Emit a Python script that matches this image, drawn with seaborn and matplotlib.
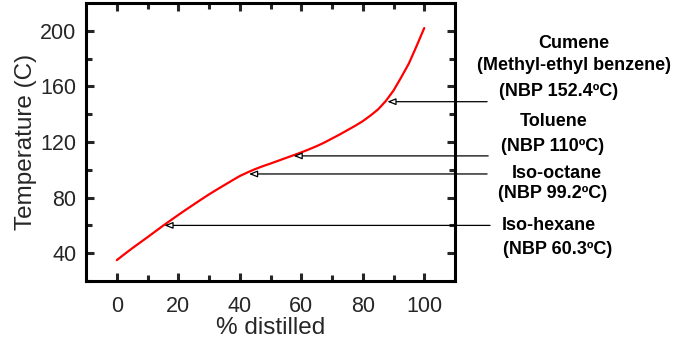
import matplotlib
matplotlib.use("Agg")
import matplotlib.pyplot as plt
import matplotlib.transforms as mtransforms
import numpy as np
import pandas as pd
import seaborn as sns

# ---- data ----
pct_distilled = [0, 2.5, 5, 7.5, 10, 12.5, 15, 17.5, 20, 22.5, 25, 27.5, 30, 32.5, 35, 37.5,
                 40, 42.5, 45, 47.5, 50, 52.5, 55, 57.5, 60, 62.5, 65, 67.5, 70, 72.5, 75,
                 77.5, 80, 82.5, 85, 87.5, 90, 92.5, 95, 97.5, 100]
temperature_c = [35, 39.3, 43.5, 47.5, 51.5, 55.6, 59.7, 63.6, 67.5, 71.3, 75, 78.7, 82.3, 85.7,
                 89, 92.3, 95.5, 98.1, 100.5, 102.6, 104.5, 106.5, 108.5, 110.5, 112.5, 114.7,
                 117, 119.6, 122.5, 125.4, 128.5, 131.6, 135, 139, 143.5, 149.5, 157, 166.5,
                 176.5, 189, 202]

compounds = ["Iso-hexane", "Iso-octane", "Toluene", "Cumene"]
compound_sub = ["", "", "", "(Methyl-ethyl benzene)"]
nbp_labels = ["(NBP 60.3\u00baC)", "(NBP 99.2\u00baC)", "(NBP 110\u00baC)", "(NBP 152.4\u00baC)"]
arrow_x = [15.5, 43, 57.5, 88]
arrow_y = [60, 97, 110, 149]

xticks = [0, 20, 40, 60, 80, 100]
yticks = [40, 80, 120, 160, 200]

df = pd.DataFrame({"pct": pct_distilled, "temp": temperature_c})

sns.set_style("ticks")
plt.rcParams["font.family"] = ["Liberation Sans", "DejaVu Sans"]

W, H = 677, 339
fig = plt.figure(figsize=(W / 100, H / 100), dpi=100)
ax = fig.add_axes([86 / W, 1 - 281 / H, (455 - 86) / W, (281 - 3) / H])

sns.lineplot(data=df, x="pct", y="temp", ax=ax, color="#ff0000", linewidth=1.6)

ax.set_xlim(-10, 110)
ax.set_ylim(20, 220)
ax.set_xticks(xticks)
ax.set_yticks(yticks)
ax.set_xticks([v + 10 for v in xticks[:-1]], minor=True)
ax.set_yticks([v + 20 for v in yticks[:-1]] + [20], minor=True)
ax.tick_params(which="both", direction="in", top=True, right=True, width=2.2,
               labelsize=15.5)
ax.tick_params(axis="x", which="major", pad=11)
ax.tick_params(axis="y", which="major", pad=7)
ax.tick_params(which="major", length=6)
ax.tick_params(which="minor", length=4)
for s in ax.spines.values():
    s.set_linewidth(2.2)
    s.set_color("black")
ax.set_xlabel("% distilled", fontsize=17.5, labelpad=0)
ax.set_ylabel("Temperature (C)", fontsize=17.5, labelpad=2)

# arrows from outside the axes to the curve
blend = mtransforms.blended_transform_factory(ax.transAxes, ax.transData)
tail_x = [1.095, 1.087, 1.09, 1.087]
for xa, ya, tx in zip(arrow_x, arrow_y, tail_x):
    ax.annotate("", xy=(xa, ya), xycoords="data", xytext=(tx, ya), textcoords=blend,
                arrowprops=dict(arrowstyle="-|>,head_length=0.5,head_width=0.2",
                                color="black", lw=0.9, fc="white", shrinkA=0, shrinkB=0),
                annotation_clip=False)

# labels (figure pixel positions)
def ftext(x, y, s):
    fig.text(x / W, 1 - y / H, s, ha="center", va="center", fontsize=13,
             fontweight="bold", color="black")

ftext(574, 44, compounds[3])
ftext(574, 66, compound_sub[3])
ftext(559, 91, nbp_labels[3])
ftext(554, 122, compounds[2])
ftext(553, 146, nbp_labels[2])
ftext(557, 173, compounds[1])
ftext(553, 193, nbp_labels[1])
ftext(549, 226, compounds[0])
ftext(558, 249, nbp_labels[0])

fig.savefig("out.png", dpi=100)
